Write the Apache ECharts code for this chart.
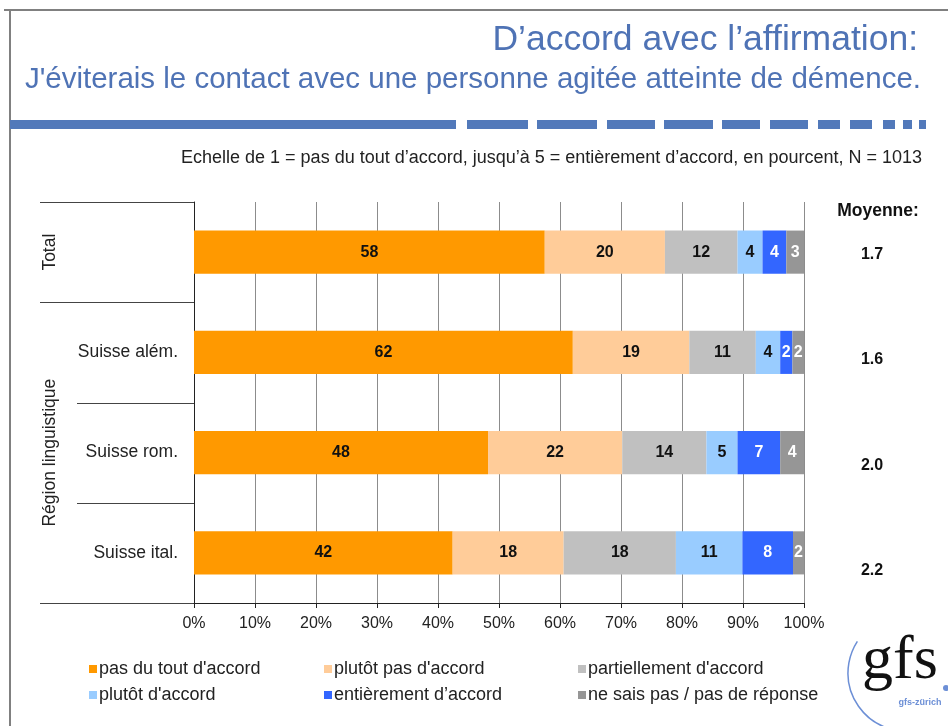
<!DOCTYPE html>
<html>
<head>
<meta charset="utf-8">
<script src="https://cdn.jsdelivr.net/npm/echarts@6/dist/echarts.min.js"></script>
<style>
  html, body { margin: 0; padding: 0; background: #fff; }
  #chart { width: 948px; height: 726px; }
</style>
</head>
<body>
<div id="chart"></div>
<script>
const FONT = 'Arial, "Liberation Sans", sans-serif';

const categories = ['Total', 'Suisse além.', 'Suisse rom.', 'Suisse ital.'];
const means = ['1.7', '1.6', '2.0', '2.2'];
const xTicks = [0, 10, 20, 30, 40, 50, 60, 70, 80, 90, 100];

// shares per row (percent)
const pasDuTout = [57.5, 62.1, 48.2, 42.4];
const plutotPas = [19.7, 19.1, 22.0, 18.2];
const partiel = [11.9, 10.9, 13.8, 18.4];
const plutot = [4.1, 4.0, 5.1, 10.9];
const entier = [3.9, 2.0, 7.0, 8.3];
const nsp = [2.9, 1.9, 3.9, 1.8];

const seriesDefs = [
  { name: "pas du tout d'accord", data: pasDuTout, color: '#FF9900', text: '#111' },
  { name: "plutôt pas d'accord", data: plutotPas, color: '#FFCC99', text: '#111' },
  { name: "partiellement d'accord", data: partiel, color: '#C0C0C0', text: '#111' },
  { name: "plutôt d'accord", data: plutot, color: '#99CCFF', text: '#111' },
  { name: 'entièrement d’accord', data: entier, color: '#3366FF', text: '#fff' },
  { name: 'ne sais pas / pas de réponse', data: nsp, color: '#969696', text: '#fff' },
];

const chart = echarts.init(document.getElementById('chart'));

const series = seriesDefs.map(s => ({
  name: s.name,
  type: 'bar',
  stack: 'all',
  barWidth: '43%',
  xAxisIndex: 0,
  yAxisIndex: 0,
  itemStyle: { color: s.color },
  label: {
    show: true,
    position: 'inside',
    color: s.text,
    fontFamily: FONT,
    fontWeight: 'bold',
    fontSize: 16,
    formatter: p => Math.round(p.value),
  },
  data: s.data,
}));

const legendBase = {
  orient: 'vertical',
  icon: 'rect',
  itemWidth: 8,
  itemHeight: 8,
  itemGap: 8,
  textStyle: { fontFamily: FONT, fontSize: 18, color: '#222', padding: [0, 0, 0, -3] },
  top: 655,
};

const dashes = [[10, 456], [467, 528], [537, 597], [607, 655], [664, 713], [722, 760],
  [770, 808], [818, 840], [850, 872], [883, 895], [903, 912], [919, 926]];

const option = {
  backgroundColor: '#fff',
  animation: false,
  grid: [
    { left: 194, right: 144, top: 202, bottom: 123 },
    { left: 830, width: 84, top: 202, height: 421 },
  ],
  legend: [
    Object.assign({}, legendBase, { left: 84, data: [seriesDefs[0].name, seriesDefs[3].name] }),
    Object.assign({}, legendBase, { left: 319, data: [seriesDefs[1].name, seriesDefs[4].name] }),
    Object.assign({}, legendBase, { left: 573, data: [seriesDefs[2].name, seriesDefs[5].name] }),
  ],
  xAxis: [
    {
      type: 'value',
      gridIndex: 0,
      min: 0,
      max: 100,
      interval: 10,
      axisLine: { show: true, lineStyle: { color: '#222', width: 1 } },
      axisTick: { show: true, length: 5, lineStyle: { color: '#222' } },
      axisLabel: { fontFamily: FONT, fontSize: 16, color: '#222', margin: 13, formatter: v => xTicks.includes(v) ? v + '%' : '' },
      splitLine: { show: true, lineStyle: { color: '#8c8c8c', width: 1 } },
    },
    { type: 'value', gridIndex: 1, show: false },
  ],
  yAxis: [
    {
      type: 'category',
      gridIndex: 0,
      inverse: true,
      data: categories,
      axisLine: { show: true, lineStyle: { color: '#222', width: 1 } },
      axisTick: { show: false },
      axisLabel: {
        fontFamily: FONT, fontSize: 17.5, color: '#222', margin: 16,
        formatter: v => v === 'Total' ? '' : v,
      },
    },
    {
      type: 'category',
      gridIndex: 1,
      inverse: true,
      data: means,
      axisLine: { show: false },
      axisTick: { show: false },
      axisLabel: { fontFamily: FONT, fontSize: 16, fontWeight: 'bold', color: '#111', margin: -42, align: 'center' },
    },
  ],
  series: series,
  graphic: [],
};

chart.setOption(option);

// decoration: frame, titles, dashed rule, table lines, logo
const band = chart.convertToPixel({ yAxisIndex: 0 }, categories[1]) - chart.convertToPixel({ yAxisIndex: 0 }, categories[0]);
const yEdge = i => chart.convertToPixel({ yAxisIndex: 0 }, categories[0]) + (i - 0.5) * band;
const x0 = chart.convertToPixel({ xAxisIndex: 0 }, 0);
const lineStyle = { stroke: '#444', lineWidth: 1 };
const graphic = [
  { type: 'line', shape: { x1: 4, y1: 10, x2: 948, y2: 10 }, style: { stroke: '#808080', lineWidth: 2 } },
  { type: 'line', shape: { x1: 10, y1: 10, x2: 10, y2: 726 }, style: { stroke: '#808080', lineWidth: 2 } },
  { type: 'text', x: 918, y: 40, style: { text: 'D’accord avec l’affirmation:', font: '35.5px ' + FONT, fill: '#4F73B5', textAlign: 'right', textVerticalAlign: 'middle' } },
  { type: 'text', x: 921, y: 80, style: { text: "J'éviterais le contact avec une personne agitée atteinte de démence.", font: '29.5px ' + FONT, fill: '#4F73B5', textAlign: 'right', textVerticalAlign: 'middle' } },
  { type: 'text', x: 922, y: 158, style: { text: 'Echelle de 1 = pas du tout d’accord, jusqu’à 5 = entièrement d’accord, en pourcent, N = 1013', font: '18px ' + FONT, fill: '#222', textAlign: 'right', textVerticalAlign: 'middle' } },
  { type: 'text', x: 878, y: 211, style: { text: 'Moyenne:', font: 'bold 17.5px ' + FONT, fill: '#111', textAlign: 'center', textVerticalAlign: 'middle' } },
];
dashes.forEach(d => graphic.push({ type: 'rect', shape: { x: d[0], y: 120, width: d[1] - d[0], height: 9 }, style: { fill: '#5279BA' } }));
[[0, 40], [1, 40], [2, 77], [3, 77], [4, 40]].forEach(e => {
  const y = Math.round(yEdge(e[0])) + 0.5;
  graphic.push({ type: 'line', shape: { x1: e[1], y1: y, x2: x0, y2: y }, style: lineStyle });
});
graphic.push({ type: 'text', x: 50, y: (yEdge(0) + yEdge(1)) / 2, rotation: Math.PI / 2, style: { text: 'Total', font: '17.5px ' + FONT, fill: '#222', textAlign: 'center', textVerticalAlign: 'middle' } });
graphic.push({ type: 'text', x: 50, y: (yEdge(1) + yEdge(4)) / 2, rotation: Math.PI / 2, style: { text: 'Région linguistique', font: '17.5px ' + FONT, fill: '#222', textAlign: 'center', textVerticalAlign: 'middle' } });
// logo
graphic.push({ type: 'arc', shape: { cx: 906, cy: 673, r: 58, startAngle: 100 * Math.PI / 180, endAngle: 213 * Math.PI / 180, clockwise: true }, style: { stroke: '#6C8FD6', lineWidth: 1.5, fill: null } });
graphic.push({ type: 'text', x: 862, y: 662, style: { text: 'gfs', font: '62px "Liberation Serif", "Times New Roman", serif', fill: '#111', textAlign: 'left', textVerticalAlign: 'middle' } });
graphic.push({ type: 'circle', shape: { cx: 946, cy: 688, r: 3 }, style: { fill: '#6C8FD6' } });
graphic.push({ type: 'text', x: 920, y: 703, style: { text: 'gfs-zürich', font: 'bold 9px ' + FONT, fill: '#6C8FD6', textAlign: 'center', textVerticalAlign: 'middle' } });
chart.setOption({ graphic: graphic });
</script>
</body>
</html>
